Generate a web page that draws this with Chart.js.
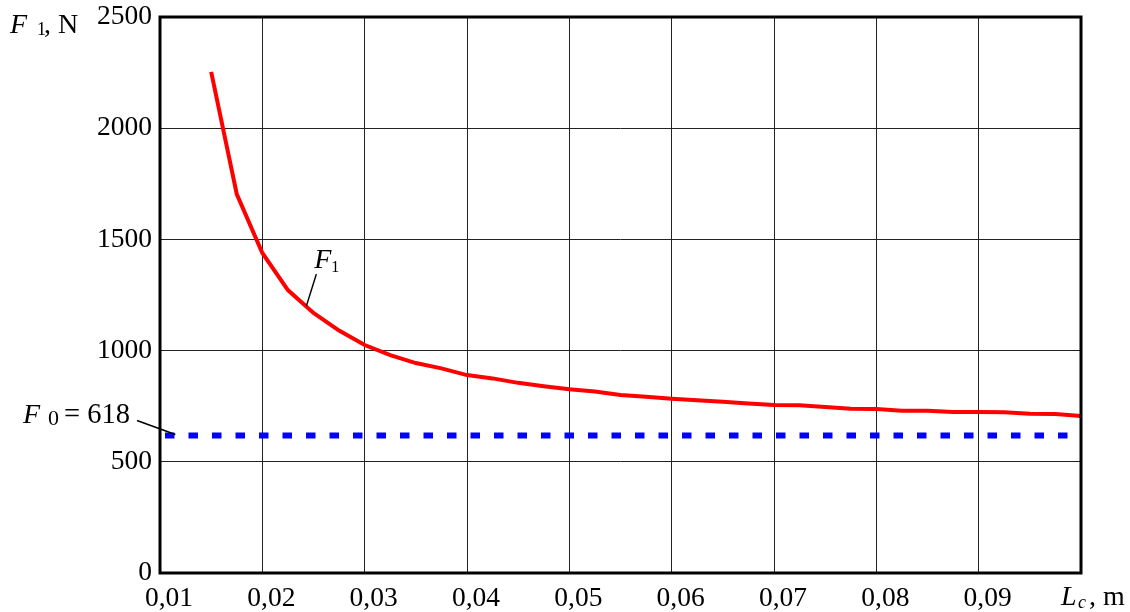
<!DOCTYPE html>
<html>
<head>
<meta charset="utf-8">
<script src="https://cdn.jsdelivr.net/npm/chart.js@4/dist/chart.umd.min.js"></script>
<style>
  html, body { margin: 0; padding: 0; background: #fff; }
  #wrap { width: 1130px; height: 612px; }
</style>
</head>
<body>
<div id="wrap"><canvas id="chart" width="1130" height="612"></canvas></div>
<script>
// ── Data ─────────────────────────────────────────────────────
const lcValues = [0.015, 0.0175, 0.02, 0.0225, 0.025, 0.0275, 0.03, 0.0325, 0.035, 0.0375,
  0.04, 0.0425, 0.045, 0.0475, 0.05, 0.0525, 0.055, 0.0575, 0.06, 0.0625,
  0.065, 0.0675, 0.07, 0.0725, 0.075, 0.0775, 0.08, 0.0825, 0.085, 0.0875,
  0.09, 0.0925, 0.095, 0.0975, 0.1];
const f1Values = [2253, 1704, 1439, 1272, 1169, 1090, 1025, 980, 944, 920,
  890, 875, 855, 840, 826, 816, 800, 792, 784, 777,
  770, 762, 755, 754, 746, 738, 737, 730, 729, 724,
  724, 723, 716, 715, 706];
const f0Value = 618;
const f0Range = [0.01, 0.1];
const xTickLabels = ['0,01', '0,02', '0,03', '0,04', '0,05', '0,06', '0,07', '0,08', '0,09'];
const yTickStep = 500;

const SERIF = '"Liberation Serif", "DejaVu Serif", serif';

// ── Text helper: list of parts {t, x, y, size, italic} relative to anchor ──
function drawParts(ctx, x0, y0, parts) {
  ctx.textAlign = 'left';
  ctx.textBaseline = 'alphabetic';
  ctx.fillStyle = '#000';
  parts.forEach(p => {
    ctx.font = (p.italic ? 'italic ' : '') + p.size + 'px ' + SERIF;
    ctx.fillText(p.t, x0 + p.x, y0 + p.y);
  });
}

// ── Frame, labels and leader lines ───────────────────────────
const decor = {
  id: 'decor',
  afterDraw(chart) {
    const { ctx, chartArea: a, scales: { x, y } } = chart;
    ctx.save();
    ctx.strokeStyle = '#000';
    ctx.lineWidth = 3;
    ctx.strokeRect(a.left, a.top, a.right - a.left, a.bottom - a.top);

    // axis titles
    drawParts(ctx, 10, 33, [
      { t: 'F', x: 0, y: 0, size: 28, italic: true },
      { t: '1', x: 27, y: 2, size: 18 },
      { t: ', N', x: 34, y: 0, size: 28 }
    ]);
    drawParts(ctx, 1061, 605, [
      { t: 'L', x: 0, y: 0, size: 28, italic: true },
      { t: 'c', x: 17, y: 3, size: 18, italic: true },
      { t: ', m', x: 28, y: 0, size: 28 }
    ]);

    // F0 annotation
    const f0y = y.getPixelForValue(f0Value);
    drawParts(ctx, 23, f0y - 13, [
      { t: 'F', x: 0, y: 0, size: 28, italic: true },
      { t: '0', x: 25, y: 2, size: 22 },
      { t: '= 618', x: 41, y: 0, size: 28.5 }
    ]);
    ctx.lineWidth = 1.5;
    ctx.beginPath();
    ctx.moveTo(137, f0y - 15);
    ctx.lineTo(x.getPixelForValue(0.0115), f0y - 1);
    ctx.stroke();

    // F1 label
    const lx = x.getPixelForValue(0.0243);
    const ly = y.getPixelForValue(1200);
    ctx.beginPath();
    ctx.moveTo(lx, ly);
    ctx.lineTo(lx + 10, ly - 32);
    ctx.stroke();
    drawParts(ctx, lx + 8, ly - 38, [
      { t: 'F', x: 0, y: 0, size: 28, italic: true },
      { t: '1', x: 17, y: 4, size: 16 }
    ]);
    ctx.restore();
  }
};

// ── Chart ────────────────────────────────────────────────────
new Chart(document.getElementById('chart').getContext('2d'), {
  type: 'line',
  data: {
    datasets: [
      {
        label: 'F1',
        data: lcValues.map((v, i) => ({ x: v, y: f1Values[i] })),
        borderColor: '#ff0000',
        borderWidth: 4,
        pointRadius: 0,
        tension: 0,
        fill: false
      },
      {
        label: 'F0',
        data: f0Range.map(v => ({ x: v, y: f0Value })),
        borderColor: '#0000ff',
        borderWidth: 6,
        borderDash: [9.5, 14],
        borderDashOffset: 18.5,
        borderCapStyle: 'butt',
        pointRadius: 0,
        fill: false
      }
    ]
  },
  options: {
    responsive: false,
    animation: false,
    devicePixelRatio: 1,
    layout: { padding: { top: 17, right: 49, bottom: 0, left: 0 } },
    plugins: { legend: { display: false }, tooltip: { enabled: false } },
    scales: {
      x: {
        type: 'linear',
        min: 0.01,
        max: 0.1,
        afterFit: s => { s.height = 39; s.paddingLeft = 0; s.paddingRight = 0; },
        grid: { color: '#222', lineWidth: 1, drawTicks: false },
        border: { display: false },
        ticks: {
          stepSize: 0.01,
          padding: 9,
          labelOffset: 9,
          color: '#000',
          font: { family: SERIF, size: 27.5 },
          callback: v => xTickLabels[Math.round(v * 100) - 1] || ''
        }
      },
      y: {
        min: 0,
        max: 2500,
        afterFit: s => { s.width = 160; s.paddingTop = 0; s.paddingBottom = 0; },
        grid: { color: '#222', lineWidth: 1, drawTicks: false },
        border: { display: false },
        ticks: {
          stepSize: yTickStep,
          padding: 8,
          color: '#000',
          font: { family: SERIF, size: 27.5 },
          callback: v => String(v)
        }
      }
    }
  },
  plugins: [decor]
});
</script>
</body>
</html>
